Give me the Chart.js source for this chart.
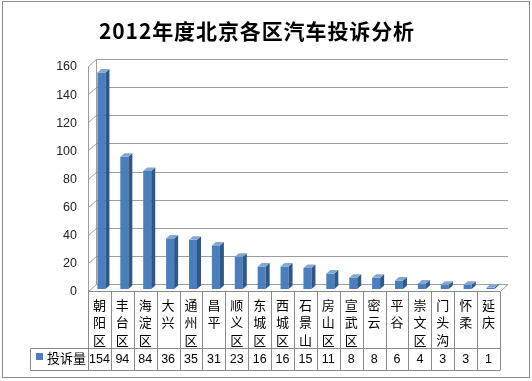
<!DOCTYPE html>
<html>
<head>
<meta charset="utf-8">
<script src="https://cdn.jsdelivr.net/npm/chart.js@4/dist/chart.umd.min.js"></script>
<style>
  html, body { margin: 0; padding: 0; background: #fff; }
  #wrap { width: 532px; height: 381px; }
</style>
</head>
<body>
<div id="wrap"><canvas id="c" width="532" height="381"></canvas></div>
<script>
// ---- data ----
const chartTitle = '2012年度北京各区汽车投诉分析';
const seriesName = '投诉量';
const categories = ['朝阳区','丰台区','海淀区','大兴','通州区','昌平','顺义区','东城区','西城区','石景山','房山区','宣武区','密云','平谷','崇文区','门头沟','怀柔','延庆'];
const values = [154, 94, 84, 36, 35, 31, 23, 16, 16, 15, 11, 8, 8, 6, 4, 3, 3, 1];
const yMin = 0, yMax = 160, yStep = 20;

// ---- styling ----
const CJK = '"Noto Sans CJK SC", "Noto Sans", sans-serif';
const NUM = '"Liberation Sans", Arial, sans-serif';
const wall = { x: 8, y: -7 };
const barShift = { x: 2, y: -2 };
const barDepth = { x: 4, y: -3.5 };
const frontColor = '#4a7ebc';
const sideColor = '#2f5787';
const topColor = '#86a6d2';
const lineColor = '#9c9c9c';

const deco = {
  id: 'deco',
  beforeDatasetsDraw(chart) {
    const { ctx, chartArea: a, scales: { y } } = chart;
    ctx.save();
    ctx.strokeStyle = lineColor;
    ctx.lineWidth = 1;
    y.ticks.forEach(t => {
      const py = Math.round(y.getPixelForValue(t.value)) + 0.5;
      ctx.beginPath();
      ctx.moveTo(a.left + 0.5, py);
      ctx.lineTo(a.left + wall.x + 0.5, py + wall.y);
      ctx.lineTo(a.right + wall.x, py + wall.y);
      ctx.stroke();
    });
    const top = Math.round(y.getPixelForValue(yMax)) + 0.5;
    const bot = Math.round(y.getPixelForValue(yMin)) + 0.5;
    ctx.beginPath();
    ctx.moveTo(a.left + 0.5, top); ctx.lineTo(a.left + 0.5, bot);
    ctx.moveTo(a.left + wall.x + 0.5, top + wall.y); ctx.lineTo(a.left + wall.x + 0.5, bot + wall.y);
    ctx.moveTo(a.right + 0.5, bot); ctx.lineTo(a.right + wall.x, bot + wall.y);
    ctx.stroke();
    ctx.restore();
    ctx.save();
    ctx.translate(barShift.x, barShift.y);
  },
  afterDatasetsDraw(chart) {
    const { ctx } = chart;
    const meta = chart.getDatasetMeta(0);
    meta.data.forEach(el => {
      const l = el.x - el.width / 2, r = el.x + el.width / 2, t = el.y, b = el.base;
      ctx.fillStyle = sideColor;
      ctx.beginPath();
      ctx.moveTo(r, t); ctx.lineTo(r + barDepth.x, t + barDepth.y);
      ctx.lineTo(r + barDepth.x, b + barDepth.y); ctx.lineTo(r, b);
      ctx.closePath(); ctx.fill();
      ctx.fillStyle = topColor;
      ctx.beginPath();
      ctx.moveTo(l, t); ctx.lineTo(l + barDepth.x, t + barDepth.y);
      ctx.lineTo(r + barDepth.x, t + barDepth.y); ctx.lineTo(r, t);
      ctx.closePath(); ctx.fill();
    });
    ctx.restore();
  },
  afterDraw(chart) {
    const { ctx, chartArea: a, scales: { x } } = chart;
    ctx.save();
    ctx.fillStyle = '#000';
    ctx.font = 'bold 21px ' + CJK;
    ctx.textAlign = 'center';
    ctx.textBaseline = 'middle';
    try { ctx.letterSpacing = '0.9px'; } catch (e) {}
    ctx.fillText(chartTitle, 257, 31);
    try { ctx.letterSpacing = '0px'; } catch (e) {}

    const tTop = Math.round(a.bottom) + 0.5;
    const rowTop = 348.5, rowBot = 370.5, legL = 30.5;
    const n = categories.length;
    const colW = (a.right - a.left) / n;
    ctx.strokeStyle = '#8a8a8a';
    ctx.lineWidth = 1;
    ctx.beginPath();
    ctx.moveTo(a.left, tTop); ctx.lineTo(a.right, tTop);
    ctx.moveTo(legL, rowTop); ctx.lineTo(a.right, rowTop);
    ctx.moveTo(legL, rowBot); ctx.lineTo(a.right, rowBot);
    ctx.moveTo(legL, rowTop); ctx.lineTo(legL, rowBot);
    for (let i = 0; i <= n; i++) {
      const px = Math.round(a.left + i * colW) + 0.5;
      ctx.moveTo(px, tTop); ctx.lineTo(px, rowBot);
    }
    ctx.stroke();

    ctx.fillStyle = frontColor;
    ctx.fillRect(36, 353, 7, 7);
    ctx.fillStyle = '#000';
    ctx.font = '13px ' + CJK;
    ctx.textAlign = 'left';
    ctx.fillText(seriesName, 47, 358);

    ctx.font = '12.5px ' + NUM;
    ctx.textAlign = 'center';
    values.forEach((v, i) => {
      ctx.fillText(String(v), x.getPixelForValue(i), 359.5);
    });

    ctx.strokeStyle = '#8c8c8c';
    ctx.strokeRect(2.5, 1.5, 527, 376);
    ctx.restore();
  }
};

new Chart(document.getElementById('c'), {
  type: 'bar',
  data: {
    labels: categories.map(s => s.split('')),
    datasets: [{
      label: seriesName,
      data: values,
      backgroundColor: frontColor,
      borderWidth: 0,
      barPercentage: 0.35,
      categoryPercentage: 1
    }]
  },
  options: {
    responsive: false,
    animation: false,
    layout: { padding: { top: 66, left: 4, right: 32, bottom: 10 } },
    plugins: {
      legend: { display: false },
      title: { display: false },
      tooltip: { enabled: false }
    },
    scales: {
      x: {
        offset: true,
        grid: { display: false, drawTicks: false },
        border: { display: false },
        ticks: {
          color: '#000',
          padding: 5,
          maxRotation: 0,
          autoSkip: false,
          font: { family: CJK, size: 13, lineHeight: 1.35 }
        },
        afterFit(s) { s.height = 80; }
      },
      y: {
        min: yMin, max: yMax,
        grid: { display: false, drawTicks: false },
        border: { display: false },
        ticks: {
          stepSize: yStep,
          color: '#222',
          padding: 11,
          labelOffset: 1,
          font: { family: NUM, size: 12.5 }
        },
        afterFit(s) { s.width = 84; }
      }
    }
  },
  plugins: [deco]
});
</script>
</body>
</html>
